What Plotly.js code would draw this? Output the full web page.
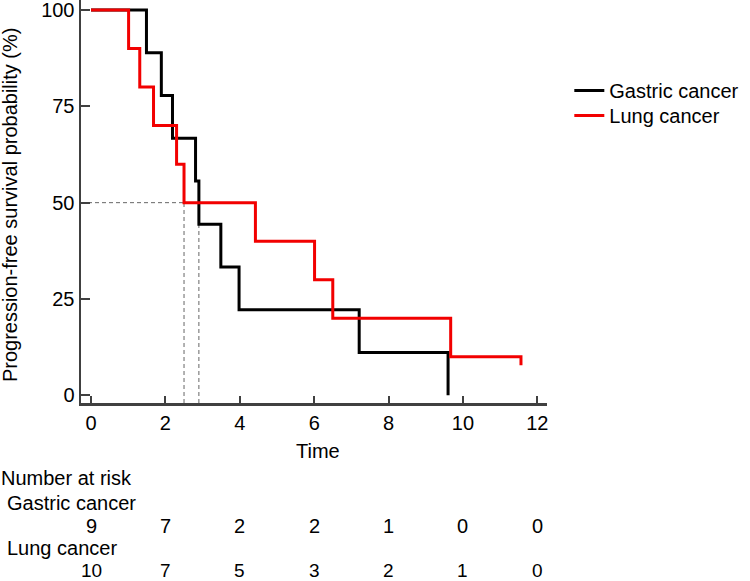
<!DOCTYPE html>
<html>
<head>
<meta charset="utf-8">
<script src="https://cdn.plot.ly/plotly-3.0.1.min.js"></script>
<style>
  html, body { margin: 0; padding: 0; background: #fff; }
  #chart { width: 750px; height: 581px; }
</style>
</head>
<body>
<div id="chart"></div>
<script>
// Kaplan-Meier step values (time, survival %)
const gastricTimes = [0, 1.49, 1.89, 2.19, 2.81, 2.90, 3.49, 3.98, 7.21, 9.60];
const gastricSurv  = [100, 88.9, 77.8, 66.7, 55.6, 44.4, 33.3, 22.2, 11.1, 0];
const lungTimes = [0, 1.01, 1.31, 1.68, 2.30, 2.50, 4.42, 6.01, 6.50, 9.67, 11.56, 11.56];
const lungSurv  = [100, 90, 80, 70, 60, 50, 40, 30, 20, 10, 10, 7.8];

// median survival times (dashed guides)
const medianTimes = [2.9, 2.5];
const medianSurv = 50;

// number at risk table
const riskTimes = [0, 2, 4, 6, 8, 10, 12];
const gastricRisk = [9, 7, 2, 2, 1, 0, 0];
const lungRisk = [10, 7, 5, 3, 2, 1, 0];

const xTicks = [0, 2, 4, 6, 8, 10, 12];
const yTicks = [0, 25, 50, 75, 100];

const FONT = 'Liberation Sans, Arial, sans-serif';
const FS = 20;
const TABLE_FS = 19;
const AXIS = '#404040';
const xRange = [-0.27, 12.26];
const yRange = [-2.0, 102.6];

// plot area in pixels, used to place the text around the chart
const plotL = 81, plotR = 546.7, plotT = 0, plotB = 402.7;
const px = (p) => (p - plotL) / (plotR - plotL);
const py = (p) => (plotB - p) / (plotB - plotT);

const traces = [];

// median guides
traces.push({
    x: [xRange[0], Math.max(...medianTimes)],
    y: [medianSurv, medianSurv],
    type: 'scatter', mode: 'lines', showlegend: false, hoverinfo: 'skip',
    line: { color: '#666', width: 1, dash: '4px,3px' }
});
medianTimes.forEach(t => {
    traces.push({
        x: [t, t],
        y: [yRange[0], medianSurv],
        type: 'scatter', mode: 'lines', showlegend: false, hoverinfo: 'skip',
        line: { color: '#666', width: 1, dash: '4px,3px' }
    });
});

traces.push({
    x: gastricTimes, y: gastricSurv,
    type: 'scatter', mode: 'lines', name: 'Gastric cancer', legend: 'legend',
    line: { color: '#000000', width: 3, shape: 'hv' }
});
traces.push({
    x: lungTimes, y: lungSurv,
    type: 'scatter', mode: 'lines', name: 'Lung cancer', legend: 'legend2',
    line: { color: '#f20000', width: 3, shape: 'hv' }
});

const annotations = [];
const txt = (text, x, y, opts = {}) => Object.assign({
    text, x, y, xref: 'paper', yref: 'paper', showarrow: false,
    xanchor: 'left', yanchor: 'middle',
    font: { family: FONT, size: TABLE_FS, color: '#000' }
}, opts);
const big = { family: FONT, size: FS, color: '#000' };

annotations.push(txt('Progression-free survival probability (%)', px(10), py(204),
    { xanchor: 'center', textangle: -90, font: big }));
annotations.push(txt('Time', px(318), py(451), { xanchor: 'center', font: big }));

annotations.push(txt('Number at risk', px(-1), py(478), { font: big }));
annotations.push(txt('Gastric cancer', px(5), py(503), { font: big }));
annotations.push(txt('Lung cancer', px(5), py(548), { font: big }));
riskTimes.forEach((t, i) => {
    annotations.push(txt(String(gastricRisk[i]), t, py(526), { xref: 'x', xanchor: 'center', font: big }));
    annotations.push(txt(String(lungRisk[i]), t, py(570), { xref: 'x', xanchor: 'center' }));
});

const legendStyle = (top) => ({
    x: px(569), y: py(top), xanchor: 'left', yanchor: 'top',
    bgcolor: 'rgba(0,0,0,0)', borderwidth: 0,
    font: { family: FONT, size: FS, color: '#000' }
});

const axisStyle = {
    showgrid: false, zeroline: false,
    showline: true, linecolor: AXIS, linewidth: 2.5,
    ticks: 'inside', tickwidth: 2, tickcolor: AXIS,
    ticklabeloverflow: 'allow',
    tickfont: { family: FONT, size: FS, color: '#000' }
};

const layout = {
    width: 750, height: 581,
    margin: { l: plotL, r: 750 - plotR, t: plotT, b: 581 - plotB, pad: 0 },
    paper_bgcolor: '#fff', plot_bgcolor: '#fff',
    font: { family: FONT, size: FS, color: '#000' },
    xaxis: Object.assign({}, axisStyle, {
        range: xRange, tickvals: xTicks, ticktext: xTicks.map(String), ticklen: 7
    }),
    yaxis: Object.assign({}, axisStyle, {
        range: yRange, tickvals: yTicks, ticktext: yTicks.map(String), ticklen: 9
    }),
    showlegend: true,
    legend: legendStyle(71),
    legend2: legendStyle(96),
    annotations
};

Plotly.newPlot('chart', traces, layout, { displayModeBar: false, staticPlot: true });
</script>
</body>
</html>
